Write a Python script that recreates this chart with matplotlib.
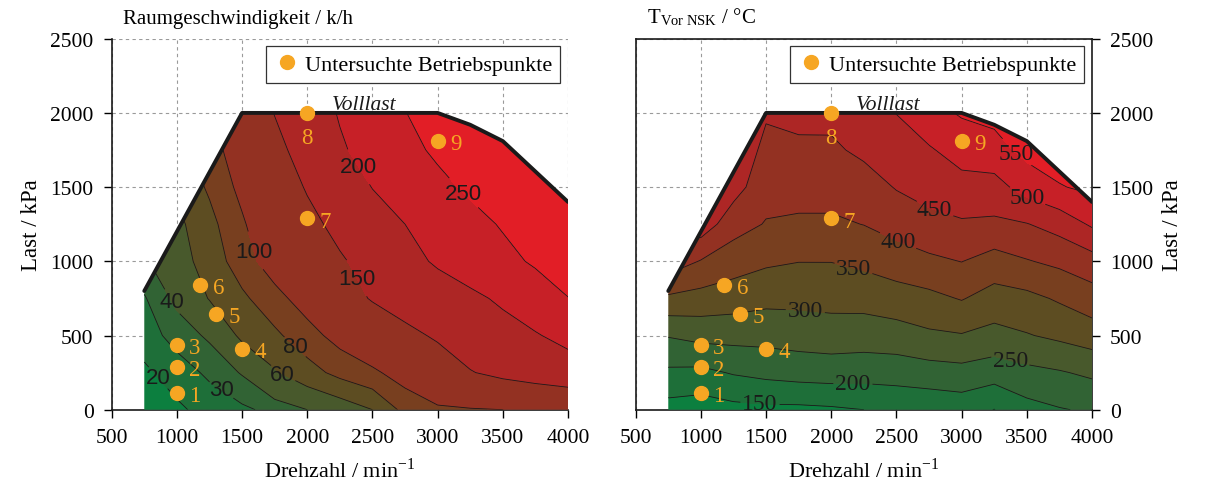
import numpy as np
import matplotlib
matplotlib.use("Agg")
import matplotlib.pyplot as plt
from matplotlib.patches import Polygon

plt.rcParams['font.family'] = ['Liberation Serif', 'DejaVu Serif']
plt.rcParams['mathtext.fontset'] = 'stix'

# grid of the maps (Drehzahl in 1/min, Last in kPa)
speed = [750, 1000, 1250, 1500, 1750, 2000, 2250, 2500, 2750, 3000, 3250, 3500, 3750, 4000]
load = [0, 250, 500, 750, 1000, 1250, 1500, 1750, 2000]

# Raumgeschwindigkeit / k/h, one row per load
sv = [
    [14, 18, 24, 28, 33, 40, 48, 60, 86, 96, 98, 100, 102, 104],
    [18, 25, 32, 41, 58, 72, 86, 96, 110, 128, 148, 160, 170, 180],
    [25, 34, 42, 64, 76, 92, 108, 122, 140, 155, 172, 186, 197, 212],
    [29, 43, 61, 76, 93, 110, 132, 153, 168, 180, 192, 206, 225, 249],
    [38, 52, 68, 91, 111, 126, 146, 163, 187, 205, 220, 237, 256, 275],
    [45, 55, 74, 97, 121, 140, 160, 182, 200, 215, 235, 254, 270, 285],
    [50, 64, 83, 106, 128, 153, 175, 201, 218, 238, 258, 275, 290, 305],
    [55, 70, 90, 114, 140, 165, 195, 215, 236, 258, 275, 292, 305, 318],
    [58, 75, 96, 122, 151, 177, 203, 225, 249, 268, 285, 300, 315, 330],
]

# T vor NSK / degC, one row per load
temp = [
    [131, 124, 135, 139, 139, 143, 150, 160, 163, 170, 149, 183, 197, 206],
    [191, 188, 204, 214, 221, 224, 221, 222, 229, 234, 223, 237, 246, 259],
    [253, 266, 267, 267, 272, 276, 274, 279, 292, 297, 285, 297, 310, 325],
    [341, 332, 324, 313, 313, 316, 318, 328, 337, 353, 330, 337, 356, 378],
    [430, 397, 373, 358, 351, 351, 361, 376, 390, 401, 380, 397, 411, 430],
    [460, 480, 420, 397, 392, 392, 401, 419, 436, 444, 441, 448, 469, 507],
    [480, 485, 470, 418, 419, 419, 428, 453, 468, 483, 482, 520, 547, 560],
    [490, 495, 485, 438, 443, 442, 460, 477, 495, 520, 531, 565, 575, 580],
    [500, 500, 495, 455, 460, 462, 480, 501, 533, 555, 565, 580, 590, 595],
]

sv_levels = [20, 30, 40, 60, 80, 100, 150, 200, 250]
temp_levels = [150, 200, 250, 300, 350, 400, 450, 500, 550]

# full load curve
vl_speed = [750, 1500, 3000, 3250, 3500, 4000]
vl_load = [800, 2000, 2000, 1920, 1810, 1400]

# investigated operating points
op_speed = [1000, 1000, 1000, 1500, 1300, 1180, 2000, 2000, 3000]
op_load = [112, 287, 435, 408, 644, 840, 1290, 2000, 1810]
op_names = ['1', '2', '3', '4', '5', '6', '7', '8', '9']

# where the contour labels sit
sv_label_pos = [(848, 208), (1332, 120), (934, 713), (1804, 229), (1906, 423),
                (1600, 1070), (2366, 880), (2366, 1621), (3190, 1453)]
temp_label_pos = [(1453, 38), (2166, 187), (3370, 319), (1800, 656), (2156, 903),
                  (2502, 1117), (2782, 1319), (3485, 1408), (3400, 1712)]

band_colors = ['#0c7f3f', '#1e6f39', '#316334', '#48592c', '#5d4d22',
               '#783f1f', '#933122', '#ad2625', '#c72027', '#e21e26']
orange = '#f6a623'


def draw_map(ax, z, levels, label_pos, label_font, label_size, title):
    n, l = np.meshgrid(speed, load)
    z = np.array(z, dtype=float)

    ax.set_xlim(500, 4000)
    ax.set_ylim(0, 2500)
    ax.set_xticks(range(500, 4001, 500))
    ax.set_yticks(range(0, 2501, 500))
    ax.grid(True, color='#9a9a9a', linestyle=(0, (3, 3)), linewidth=0.8, zorder=0)
    ax.set_axisbelow(True)

    verts = [(750, 0)] + list(zip(vl_speed, vl_load)) + [(4000, 0)]
    region = Polygon(verts, closed=True, facecolor='none', edgecolor='none')
    ax.add_patch(region)

    fill_levels = [-1000] + levels + [5000]
    cf = ax.contourf(n, l, z, levels=fill_levels, colors=band_colors, zorder=3)
    cf.set_clip_path(region)
    cl = ax.contour(n, l, z, levels=levels, colors='#1a1a1a', linewidths=0.6, zorder=3.5)
    cl.set_clip_path(region)
    with plt.rc_context({'font.family': label_font}):
        texts = ax.clabel(cl, fmt='%d', fontsize=label_size, colors='#1a1a1a', inline=True,
                          inline_spacing=2, manual=label_pos)
    # redraw the labels horizontally and in the wanted font
    for t in list(texts):
        x, y = t.get_position()
        s = t.get_text()
        t.set_visible(False)
        ax.text(x, y, s, ha='center', va='center', fontsize=label_size,
                family=[label_font, 'DejaVu Sans'], color='#1a1a1a', zorder=4.5)

    ax.plot(vl_speed, vl_load, color='#1a1a1a', linewidth=2.8, zorder=4,
            solid_capstyle='round')
    ax.text(2440, 2025, 'Volllast', style='italic', fontsize=15.5, ha='center',
            va='baseline', color='#1a1a1a')

    ax.plot(op_speed, op_load, 'o', color=orange, markersize=10, zorder=5,
            label='Untersuchte Betriebspunkte')
    for x, y, s in zip(op_speed, op_load, op_names):
        if s == '8':
            ax.annotate(s, (x, y), xytext=(0, -18), textcoords='offset points',
                        ha='center', va='center', color=orange, fontsize=16.5, zorder=6)
        else:
            ax.annotate(s, (x, y), xytext=(13, -2), textcoords='offset points',
                        ha='center', va='center', color=orange, fontsize=16.5, zorder=6)

    leg = ax.legend(loc='upper right', fontsize=16, frameon=True, fancybox=False,
                    framealpha=1, edgecolor='#333333', borderaxespad=0.35,
                    handletextpad=0.2, handlelength=1.2, borderpad=0.35)
    leg.get_frame().set_linewidth(0.9)
    leg.set_zorder(7)

    ax.text(0.025, 1.03, title, transform=ax.transAxes, fontsize=15, ha='left', va='bottom')
    ax.set_xlabel('Drehzahl / min$^{\\mathregular{-1}}$', fontsize=16, labelpad=8)
    ax.tick_params(direction='out', length=6, width=1, labelsize=15.5, pad=7)
    for s in ax.spines.values():
        s.set_linewidth(1.2)
        s.set_color('#1a1a1a')


fig = plt.figure(figsize=(12.06, 4.85), dpi=100)
ax1 = fig.add_axes([0.0926, 0.1532, 0.3784, 0.7649])
ax2 = fig.add_axes([0.5271, 0.1532, 0.3784, 0.7649])

draw_map(ax1, sv, sv_levels, sv_label_pos, 'Liberation Sans', 16,
         'Raumgeschwindigkeit / k/h')
ax1.spines['top'].set_visible(False)
ax1.spines['right'].set_visible(False)
ax1.set_ylabel('Last / kPa', fontsize=16.5, labelpad=6)

draw_map(ax2, temp, temp_levels, temp_label_pos, 'Liberation Serif', 17,
         'T$_{\\mathregular{Vor\\ NSK}}$ / °C')
ax2.yaxis.tick_right()
ax2.yaxis.set_label_position('right')
ax2.set_ylabel('Last / kPa', fontsize=16.5, labelpad=6)

fig.savefig('out.png', dpi=100)
